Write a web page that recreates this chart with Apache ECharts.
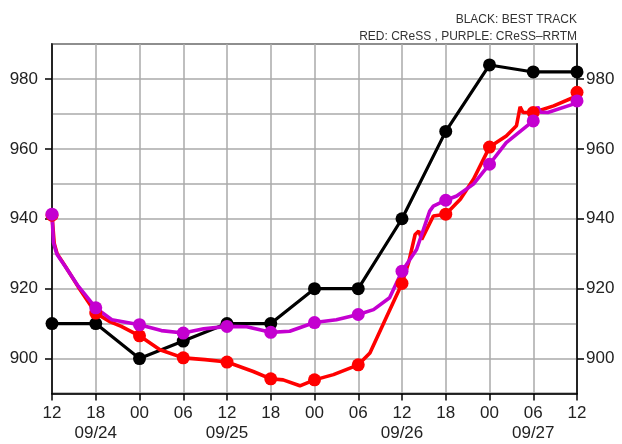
<!DOCTYPE html>
<html><head><meta charset="utf-8">
<script src="https://cdn.jsdelivr.net/npm/echarts@6/dist/echarts.min.js"></script>
<style>html,body{margin:0;padding:0;background:#fff}#c{width:622px;height:444px}</style>
</head><body><div id="c"></div>
<script>
// hours since 09/24 12UTC
var xTickHours = [0,6,12,18,24,30,36,42,48,54,60,66,72];
var xTickLabels = ['12','18','00','06','12','18','00','06','12','18','00','06','12'];
var dateLabels = {6:'09/24', 24:'09/25', 48:'09/26', 66:'09/27'};
var yTickLabels = [900,920,940,960,980];

var bestTrackHours = [0,6,12,18,24,30,36,42,48,54,60,66,72];
var bestTrackValues = [910,910,900,905,910,910,920,920,940,965,984,982,982];

var cressHours = [0,0.3,0.7,1.8,3.6,6,8,9.5,12,14.8,18,21,24,27.6,30,31.7,34,36,38.6,42,43.6,45.7,48,48.9,49.8,50.3,50.7,52.3,54,56,57.8,60,62.3,63.7,64.2,64.6,66,68.8,71.5,72];
var cressValues = [941,933,930,926.5,920.5,913,910.5,909.2,906.5,902.5,900.2,899.7,899,896.3,894.2,893.9,892.2,893.9,895.4,898.2,901.6,911.1,921.5,927.4,935.5,936.5,934.1,940.8,941.3,945.6,951.3,960.5,963.7,966.6,972,970.4,970.4,972.3,974.7,976.2];

var rrtmHours = [0,0.2,0.5,0.7,1.8,3.6,6,8.2,12,15,18,20.8,24,26.7,30,32.6,36,39,42,44.1,46.3,48,50,51.8,52.3,54,55.5,57.8,60,62.3,66,66.6,67,68,71.5,72];
var rrtmValues = [941.3,933.2,931,929.8,926.4,920.7,914.5,911.1,909.7,908,907.3,908.5,909.2,909.1,907.5,907.8,910.3,911.1,912.6,914,917.4,925,931.2,942.2,943.6,945.3,946.5,949.9,955.6,961.8,968,972,970.5,970.4,972.8,973.7];

function zip(a,b){return a.map(function(h,i){return [h,b[i]];});}
var FONT = 'Liberation Sans';
var chart = echarts.init(document.getElementById('c'), null, {renderer:'canvas'});
function mk(hours, vals, color, width){
  return {
    type:'line', data: zip(hours, vals), showSymbol:true, showAllSymbol:true,
    symbol:'circle', yAxisIndex:0,
    symbolSize:function(v){return (v[0]%6===0)?13:0;},
    itemStyle:{color:color}, lineStyle:{color:color, width:width},
    animation:false, silent:true, z:3
  };
}
function labelAxis(pos, margin){
  return {
    type:'value', min:890, max:990, interval:10, position:pos,
    axisLine:{show:true, lineStyle:{color:'#000', width:1.5}},
    axisTick:{show:true, customValues: yTickLabels, length:7, inside:false, lineStyle:{color:'#000', width:1.5}},
    axisLabel:{customValues: yTickLabels, fontFamily:FONT, fontSize:17, color:'#222', margin:margin},
    splitLine:{show:false}
  };
}
chart.setOption({
  backgroundColor:'#fff',
  animation:false,
  grid:{left:52, right:45, top:44, bottom:50.5, show:true, borderColor:'#000', borderWidth:1.5, backgroundColor:'transparent', containLabel:false, outerBoundsMode:'none'},
  graphic:[
    {type:'text', right:45, top:14, style:{text:'BLACK: BEST TRACK', fontFamily:FONT, fontSize:12, fill:'#333', textAlign:'right'}},
    {type:'text', right:45, top:31, style:{text:'RED: CReSS , PURPLE: CReSS\u2013RRTM', fontFamily:FONT, fontSize:12, fill:'#333', textAlign:'right'}}
  ],
  xAxis:{
    type:'value', min:0, max:72, interval:6,
    axisLine:{show:true, onZero:false, lineStyle:{color:'#000', width:1.5}},
    axisTick:{show:true, length:7, lineStyle:{color:'#000', width:1.5}},
    splitLine:{show:true, lineStyle:{color:'#aaa', width:1.5}},
    axisLabel:{
      fontFamily:FONT, fontSize:17, color:'#222', margin:10.5, lineHeight:19.5,
      formatter:function(v){
        var i = xTickHours.indexOf(v);
        var s = i>=0 ? xTickLabels[i] : '';
        if (dateLabels[v]) s += '\n' + dateLabels[v];
        return s;
      }
    }
  },
  yAxis:[
    labelAxis('left', 14),
    labelAxis('right', 9),
    {type:'value', min:890, max:990, interval:10, position:'left',
     axisLine:{show:false}, axisTick:{show:false}, axisLabel:{show:false},
     splitLine:{show:true, lineStyle:{color:'#aaa', width:1.5}}}
  ],
  series:[
    mk(bestTrackHours, bestTrackValues, '#000', 3.2),
    mk(cressHours, cressValues, '#ff0000', 3.6),
    mk(rrtmHours, rrtmValues, '#c400d0', 3.6)
  ]
});
</script></body></html>
